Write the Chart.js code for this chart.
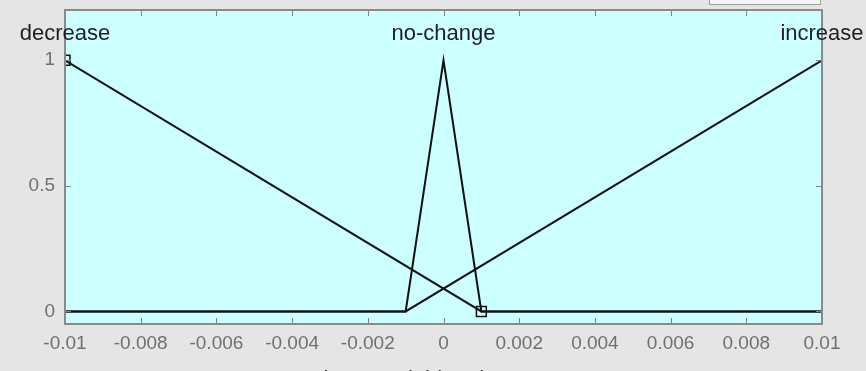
<!DOCTYPE html>
<html>
<head>
<meta charset="utf-8">
<script src="https://cdn.jsdelivr.net/npm/chart.js@4.4.0/dist/chart.umd.min.js"></script>
<style>
  html, body { margin: 0; padding: 0; background: #e5e5e5; }
  #wrap { width: 866px; height: 371px; position: relative; }
</style>
</head>
<body>
<div id="wrap"><canvas id="mfChart"></canvas></div>
<script>
// funciones de pertenencia
const mfNames = ["decrease", "no-change", "increase"];
const mfLabelX = [-0.01, 0, 0.01];
const decreaseX = [-0.01, 0.001, 0.01];
const decreaseY = [1, 0, 0];
const noChangeX = [-0.01, -0.001, 0, 0.001, 0.01];
const noChangeY = [0, 0, 1, 0, 0];
const increaseX = [-0.01, -0.001, 0.01];
const increaseY = [0, 0, 1];
const selectedX = [-0.01, 0.001];
const selectedY = [1, 0];
const xTickValues = [-0.01, -0.008, -0.006, -0.004, -0.002, 0, 0.002, 0.004, 0.006, 0.008, 0.01];
const xTickLabels = ["-0.01", "-0.008", "-0.006", "-0.004", "-0.002", "0", "0.002", "0.004", "0.006", "0.008", "0.01"];
const yTickValues = [0, 0.5, 1];
const yTickLabels = ["0", "0.5", "1"];
const xLabel = 'input variable "change"';

const puntos = (xs, ys) => xs.map((x, i) => ({ x, y: ys[i] }));
const lineaMF = (label, xs, ys) => ({
  label,
  data: puntos(xs, ys),
  borderColor: "#111",
  borderWidth: 2,
  pointRadius: 0,
  fill: false,
  tension: 0
});

const tickFont = { family: "'Liberation Sans', Arial, sans-serif", size: 19 };

// fondo, marco, marcas hacia dentro y etiquetas de las MF
const decorado = {
  id: "decorado",
  beforeDraw(chart) {
    const { ctx, chartArea: a } = chart;
    ctx.save();
    ctx.fillStyle = "#e5e5e5";
    ctx.fillRect(0, 0, chart.width, chart.height);
    ctx.fillStyle = "#ccffff";
    ctx.fillRect(a.left, a.top, a.right - a.left, a.bottom - a.top);
    // caja parcial arriba a la derecha
    ctx.fillStyle = "#f4f4f4";
    ctx.strokeStyle = "#a0a0a0";
    ctx.lineWidth = 1;
    ctx.fillRect(709, -5, 111, 9);
    ctx.strokeRect(709.5, -5, 111, 9.5);
    ctx.restore();
  },
  afterDraw(chart) {
    const { ctx, chartArea: a, scales } = chart;
    const x = scales.x, y = scales.y;
    ctx.save();
    ctx.strokeStyle = "#808080";
    ctx.lineWidth = 1;
    xTickValues.forEach(v => {
      const px = Math.round(x.getPixelForValue(v)) + 0.5;
      ctx.beginPath();
      ctx.moveTo(px, a.bottom); ctx.lineTo(px, a.bottom - 6);
      ctx.moveTo(px, a.top); ctx.lineTo(px, a.top + 6);
      ctx.stroke();
    });
    yTickValues.forEach(v => {
      const py = Math.round(y.getPixelForValue(v)) + 0.5;
      ctx.beginPath();
      ctx.moveTo(a.left, py); ctx.lineTo(a.left + 6, py);
      ctx.moveTo(a.right, py); ctx.lineTo(a.right - 6, py);
      ctx.stroke();
    });
    ctx.lineWidth = 2;
    ctx.strokeStyle = "#8a8a8a";
    ctx.strokeRect(a.left, a.top, a.right - a.left, a.bottom - a.top);

    ctx.fillStyle = "#1e1e28";
    ctx.font = "22px 'Liberation Sans', Arial, sans-serif";
    ctx.textAlign = "center";
    ctx.textBaseline = "middle";
    mfNames.forEach((n, i) => {
      ctx.fillText(n, x.getPixelForValue(mfLabelX[i]), y.getPixelForValue(1.105));
    });
    ctx.textBaseline = "top";
    ctx.fillStyle = "#333";
    ctx.fillText(xLabel, x.getPixelForValue(-0.0002), 369);
    ctx.restore();
  }
};

const ctx = document.getElementById("mfChart").getContext("2d");
new Chart(ctx, {
  type: "line",
  data: {
    datasets: [
      lineaMF(mfNames[0], decreaseX, decreaseY),
      lineaMF(mfNames[1], noChangeX, noChangeY),
      lineaMF(mfNames[2], increaseX, increaseY),
      {
        label: "selected",
        data: puntos(selectedX, selectedY),
        showLine: false,
        pointStyle: "rect",
        pointRadius: 7,
        pointBorderColor: "#111",
        pointBackgroundColor: "rgba(0,0,0,0)",
        pointBorderWidth: 1.5
      }
    ]
  },
  options: {
    responsive: true,
    maintainAspectRatio: false,
    animation: false,
    layout: { padding: { top: 10, right: 44, left: 0, bottom: 0 } },
    plugins: { legend: { display: false }, tooltip: { enabled: false } },
    scales: {
      x: {
        type: "linear",
        min: -0.01,
        max: 0.01,
        afterBuildTicks: s => { s.ticks = xTickValues.map(v => ({ value: v })); },
        afterFit: s => { s.height = 47; s.paddingLeft = 0; s.paddingRight = 0; },
        grid: { display: false },
        border: { display: false },
        ticks: {
          autoSkip: false,
          maxRotation: 0,
          padding: 0,
          color: "#707070",
          font: tickFont,
          callback: (v, i) => xTickLabels[i]
        }
      },
      y: {
        min: -0.05,
        max: 1.2,
        afterBuildTicks: s => { s.ticks = yTickValues.map(v => ({ value: v })); },
        afterFit: s => { s.width = 65; s.paddingTop = 0; s.paddingBottom = 0; },
        grid: { display: false },
        border: { display: false },
        ticks: {
          padding: 2,
          color: "#707070",
          font: tickFont,
          callback: (v, i) => yTickLabels[i]
        }
      }
    }
  },
  plugins: [decorado]
});
</script>
</body>
</html>
